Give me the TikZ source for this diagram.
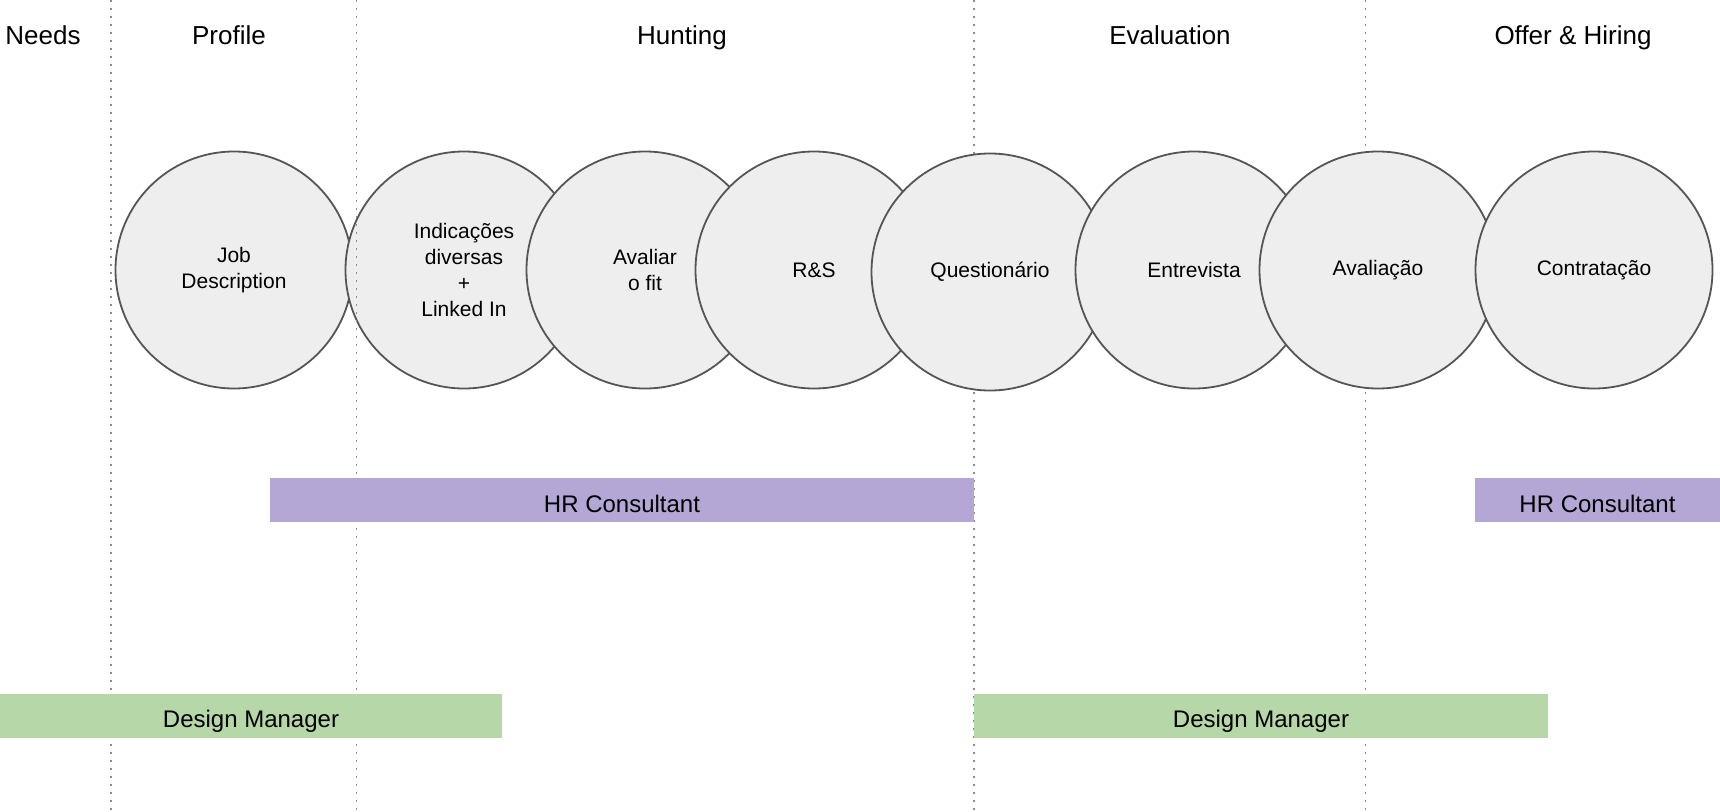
\documentclass[tikz,border=0pt]{standalone}
\usepackage{fontspec}
\setmainfont{Liberation Sans}
\usepackage{xcolor}
\usepackage{tikz}
\definecolor{hrpurple}{HTML}{B4A7D6}
\definecolor{dmgreen}{HTML}{B6D7A8}
\definecolor{stagefill}{HTML}{EEEEEE}
\definecolor{stageline}{HTML}{555555}
\definecolor{lanegray}{HTML}{8C8C8C}

\begin{document}
\begin{tikzpicture}[
    x=1pt, y=-1pt,
    phase/.style={anchor=base, inner sep=0pt, font=\fontsize{26}{31}\selectfont},
    stage/.style={
        circle, draw=stageline, line width=1.8pt, fill=stagefill,
        minimum size=237pt, inner sep=0pt, align=center,
        font=\fontsize{21}{26}\selectfont
    },
    lane/.style={lanegray, line width=1.6pt, dash pattern=on 1.6pt off 6.4pt},
    role/.style={
        rectangle, inner sep=0pt, minimum height=44pt,
        text height=24pt, text depth=0pt,
        font=\fontsize{24}{29}\selectfont
    }
]
\useasboundingbox (0,0) rectangle (1720,811);

% phase titles
\node[phase] (needs) at (43,44) {Needs};
\node[phase] (profile) at (229,44) {Profile};
\node[phase] (hunting) at (682,44) {Hunting};
\node[phase] (evaluation) at (1170,44) {Evaluation};
\node[phase] (offer) at (1573,44) {Offer \& Hiring};

% first two steps sit under the lane lines
\node[stage] (jobdesc) at (234,270) {Job\\Description};
\node[stage] (indic) at (464,270) {Indicações\\diversas\\+\\Linked In};

% lane separators
\draw[lane] (111,0) -- (111,811);
\draw[lane] (356.5,0) -- (356.5,811);
\draw[lane] (974,0) -- (974,811);
\draw[lane] (1365.5,0) -- (1365.5,811);

\node[stage] (fit) at (645,270) {Avaliar\\o fit};
\node[stage] (rs) at (814,270) {R\&S};
\node[stage] (quest) at (990,272) {Questionário};
\node[stage] (interview) at (1194,270) {Entrevista};
\node[stage] (assess) at (1378,270) {Avaliação};
\node[stage] (hiring) at (1594,270) {Contratação};

% who is in charge
\node[role, fill=hrpurple, minimum width=704pt] (hr1) at (622,500) {HR Consultant};
\node[role, fill=hrpurple, minimum width=245pt] (hr2) at (1597.5,500) {HR Consultant};
\node[role, fill=dmgreen, minimum width=502pt] (dm1) at (251,715.5) {Design Manager};
\node[role, fill=dmgreen, minimum width=574pt] (dm2) at (1261,715.5) {Design Manager};

\end{tikzpicture}
\end{document}
